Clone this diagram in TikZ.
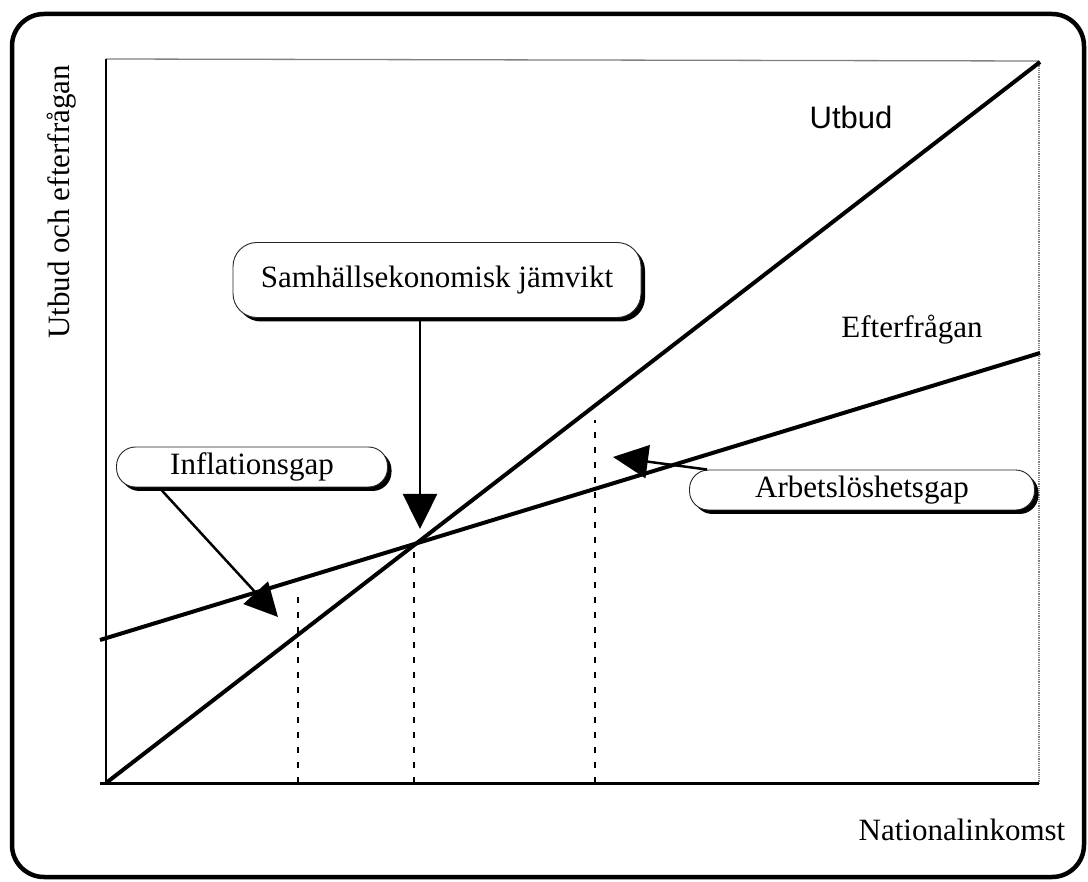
\documentclass[tikz,border=0pt]{standalone}
\usepackage{fontspec}
\setmainfont{Liberation Serif}
\newfontfamily\arialfont{Liberation Sans}
\usetikzlibrary{arrows.meta,shadows}
\begin{document}
\begin{tikzpicture}[x=1pt,y=-1pt,
  lbl/.style={font=\fontsize{31}{36}\selectfont, inner sep=0pt},
  callout/.style={draw=black!85, line width=0.9pt, fill=white, font=\fontsize{31}{36}\selectfont, inner sep=0pt,
    drop shadow={shadow xshift=4pt, shadow yshift=-4pt, opacity=1, fill=black}},
  curve/.style={line width=4pt},
  axisline/.style={line width=3pt},
  guide/.style={line width=2.6pt, dash pattern=on 6pt off 9pt},
  pointer/.style={line width=2.5pt, -{Triangle[length=35pt,width=34pt]}}
]
\useasboundingbox (0,0) rectangle (1088,882);
\fill[white] (0,0) rectangle (1088,882);
% outer frame
\draw[line width=4.5pt, rounded corners=32pt] (12,14) rectangle (1084,877);
% plot area
\coordinate (O) at (106,783);
\coordinate (TL) at (106,59);
\coordinate (TR) at (1039,61);
\coordinate (BR) at (1039,783);
\draw[gray, line width=1.3pt] (TL) -- (TR);
\draw[gray, line width=1.2pt, densely dotted] (TR) -- (BR);
\draw[line width=2.5pt] (O) -- (TL);
\draw[axisline] (100,783) -- (BR);
% curves
\coordinate (U1) at (1040,62);
\coordinate (D0) at (100,640);
\coordinate (D1) at (1040,353);
\coordinate (E) at (414,544);
\draw[curve] (O) -- (U1);
\draw[curve] (D0) -- (D1);
% guides
\coordinate (G1b) at (298,783);
\coordinate (G1t) at (298,590);
\coordinate (G2b) at (414,783);
\coordinate (G3b) at (595,783);
\coordinate (G3t) at (595,420);
\draw[guide] (G1b) -- (G1t);
\draw[guide] (G2b) -- (E);
\draw[guide] (G3b) -- (G3t);
% labels
\node[lbl, rotate=90] (ylab) at (62,202) {Utbud och efterfrågan};
\node[lbl, font=\arialfont\fontsize{31}{36}\selectfont] (utb) at (851,117) {Utbud};
\node[lbl] (eft) at (912,330) {Efterfrågan};
\node[lbl] (xlab) at (962,830) {Nationalinkomst};
% callouts
\node[callout, rounded corners=24pt, minimum width=408pt, minimum height=75pt] (sam) at (437,280) {Samhällsekonomisk jämvikt};
\node[callout, rounded corners=19pt, minimum width=271pt, minimum height=40pt] (inf) at (252,467) {Inflationsgap};
\node[callout, rounded corners=19pt, minimum width=345pt, minimum height=40pt] (arb) at (862,490) {Arbetslöshetsgap};
% pointers
\coordinate (Ptip) at (420,529);
\coordinate (Itip) at (278,617);
\coordinate (Atip) at (613,457);
\draw[pointer] ([xshift=-17pt,yshift=-2pt]sam.south) -- (Ptip);
\draw[pointer, -{Triangle[length=33pt,width=33pt]}] ([xshift=-92pt,yshift=-1pt]inf.south) -- (Itip);
\draw[pointer, -{Triangle[length=35pt,width=33pt]}] ([xshift=18pt]arb.north west) -- (Atip);
\end{tikzpicture}
\end{document}
